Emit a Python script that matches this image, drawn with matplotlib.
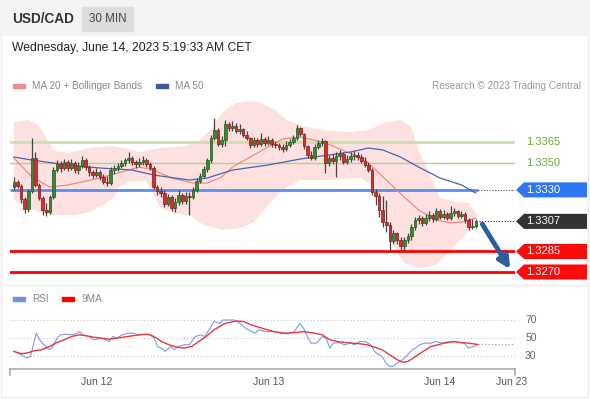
import numpy as np
import matplotlib.pyplot as plt
from matplotlib.patches import Rectangle, Polygon

plt.rcParams['font.family'] = ['Liberation Sans', 'DejaVu Sans']

# --- data (30 min candles, USD/CAD) ---
first_open = 1.33321
close = [1.33358, 1.33328, 1.33233, 1.33160, 1.33292, 1.33533, 1.33336, 1.33241, 1.33153, 1.33138,
         1.33248, 1.33445, 1.33489, 1.33460, 1.33504, 1.33460, 1.33496, 1.33445, 1.33475, 1.33518,
         1.33467, 1.33431, 1.33409, 1.33431, 1.33394, 1.33358, 1.33350, 1.33445, 1.33460, 1.33475,
         1.33496, 1.33518, 1.33533, 1.33504, 1.33489, 1.33504, 1.33518, 1.33489, 1.33460, 1.33321,
         1.33292, 1.33277, 1.33197, 1.33248, 1.33168, 1.33211, 1.33263, 1.33219, 1.33255, 1.33248,
         1.33299, 1.33365, 1.33401, 1.33453, 1.33518, 1.33679, 1.33738, 1.33635, 1.33665, 1.33782,
         1.33752, 1.33767, 1.33730, 1.33745, 1.33701, 1.33679, 1.33628, 1.33665, 1.33635, 1.33672,
         1.33643, 1.33665, 1.33635, 1.33628, 1.33613, 1.33599, 1.33628, 1.33650, 1.33679, 1.33752,
         1.33708, 1.33621, 1.33555, 1.33533, 1.33613, 1.33643, 1.33657, 1.33496, 1.33533, 1.33511,
         1.33548, 1.33562, 1.33504, 1.33526, 1.33548, 1.33555, 1.33540, 1.33511, 1.33482, 1.33445,
         1.33284, 1.33255, 1.33153, 1.33065, 1.33043, 1.32926, 1.32985, 1.32934, 1.32890, 1.32934,
         1.32963, 1.33029, 1.33080, 1.33094, 1.33058, 1.33094, 1.33116, 1.33087, 1.33146, 1.33102,
         1.33124, 1.33094, 1.33131, 1.33146, 1.33109, 1.33124, 1.33080, 1.33029, 1.33036, 1.33070]
high = [1.33394, 1.33372, 1.33343, 1.33248, 1.33306, 1.33679, 1.33577, 1.33350, 1.33255, 1.33204,
        1.33263, 1.33467, 1.33518, 1.33511, 1.33526, 1.33518, 1.33526, 1.33511, 1.33504, 1.33548,
        1.33533, 1.33482, 1.33445, 1.33460, 1.33445, 1.33416, 1.33401, 1.33467, 1.33482, 1.33496,
        1.33518, 1.33533, 1.33577, 1.33548, 1.33518, 1.33533, 1.33548, 1.33533, 1.33504, 1.33475,
        1.33336, 1.33321, 1.33299, 1.33270, 1.33263, 1.33241, 1.33299, 1.33277, 1.33284, 1.33284,
        1.33321, 1.33387, 1.33423, 1.33475, 1.33533, 1.33701, 1.33825, 1.33752, 1.33694, 1.33811,
        1.33796, 1.33804, 1.33789, 1.33782, 1.33752, 1.33730, 1.33687, 1.33687, 1.33679, 1.33716,
        1.33687, 1.33694, 1.33679, 1.33657, 1.33643, 1.33635, 1.33657, 1.33672, 1.33701, 1.33774,
        1.33760, 1.33716, 1.33628, 1.33584, 1.33635, 1.33665, 1.33679, 1.33665, 1.33555, 1.33562,
        1.33577, 1.33592, 1.33577, 1.33555, 1.33577, 1.33584, 1.33577, 1.33562, 1.33540, 1.33504,
        1.33460, 1.33306, 1.33277, 1.33255, 1.33226, 1.33065, 1.33007, 1.32992, 1.32956, 1.32956,
        1.32985, 1.33051, 1.33102, 1.33116, 1.33109, 1.33124, 1.33146, 1.33131, 1.33168, 1.33160,
        1.33153, 1.33138, 1.33182, 1.33168, 1.33153, 1.33146, 1.33138, 1.33094, 1.33087, 1.33087]
low = [1.33299, 1.33314, 1.33204, 1.33131, 1.33138, 1.33277, 1.33321, 1.33226, 1.33116, 1.33109,
       1.33124, 1.33233, 1.33431, 1.33431, 1.33445, 1.33438, 1.33445, 1.33423, 1.33416, 1.33460,
       1.33445, 1.33401, 1.33387, 1.33394, 1.33372, 1.33343, 1.33328, 1.33336, 1.33416, 1.33438,
       1.33460, 1.33475, 1.33496, 1.33482, 1.33460, 1.33467, 1.33482, 1.33467, 1.33445, 1.33306,
       1.33263, 1.33248, 1.33175, 1.33182, 1.33146, 1.33138, 1.33189, 1.33197, 1.33197, 1.33116,
       1.33233, 1.33284, 1.33350, 1.33387, 1.33431, 1.33496, 1.33665, 1.33621, 1.33613, 1.33621,
       1.33730, 1.33730, 1.33716, 1.33708, 1.33687, 1.33665, 1.33606, 1.33613, 1.33613, 1.33621,
       1.33621, 1.33628, 1.33613, 1.33606, 1.33592, 1.33577, 1.33584, 1.33613, 1.33635, 1.33665,
       1.33694, 1.33599, 1.33533, 1.33518, 1.33518, 1.33599, 1.33621, 1.33423, 1.33475, 1.33489,
       1.33394, 1.33518, 1.33489, 1.33489, 1.33504, 1.33518, 1.33518, 1.33496, 1.33467, 1.33431,
       1.33263, 1.33189, 1.33102, 1.33029, 1.32992, 1.32846, 1.32904, 1.32904, 1.32861, 1.32853,
       1.32912, 1.32934, 1.33007, 1.33051, 1.33036, 1.33043, 1.33073, 1.33065, 1.33073, 1.33087,
       1.33087, 1.33080, 1.33080, 1.33109, 1.33094, 1.33094, 1.33058, 1.33007, 1.33014, 1.33021]

# indicators, read at candle positions
ma20_idx = [0, 5, 10, 15, 19, 24, 30, 35, 39, 44, 50, 54, 58, 61, 66, 71, 75, 80, 87, 95, 99, 104,
            109, 113, 118, 122, 125, 129]
ma20 = [1.33533, 1.33394, 1.33321, 1.33336, 1.33358, 1.33387, 1.33431, 1.33467, 1.33445, 1.33387,
        1.33350, 1.33350, 1.33394, 1.33467, 1.33540, 1.33613, 1.33672, 1.33687, 1.33643, 1.33555,
        1.33496, 1.33372, 1.33248, 1.33153, 1.33080, 1.33058, 1.33065, 1.33094]
ma50_idx = [0, 5, 15, 24, 33, 39, 43, 49, 54, 61, 71, 80, 94, 99, 103, 108, 113, 119, 125, 129]
ma50 = [1.33540, 1.33518, 1.33482, 1.33460, 1.33445, 1.33409, 1.33394, 1.33372, 1.33387, 1.33445,
        1.33482, 1.33526, 1.33577, 1.33606, 1.33592, 1.33540, 1.33467, 1.33387, 1.33336, 1.33277]
bb_up_idx = [0, 4, 7, 9, 11, 15, 21, 27, 31, 35, 41, 48, 52, 55, 58, 62, 66, 69, 73, 76, 80, 85,
             94, 99, 104, 108, 111, 113, 116, 119, 124, 127, 129]
bb_up = [1.33796, 1.33811, 1.33767, 1.33679, 1.33592, 1.33570, 1.33606, 1.33621, 1.33606, 1.33577,
         1.33606, 1.33621, 1.33665, 1.33738, 1.33862, 1.33935, 1.33950, 1.33935, 1.33884, 1.33811,
         1.33774, 1.33738, 1.33723, 1.33738, 1.33796, 1.33811, 1.33760, 1.33592, 1.33423, 1.33241,
         1.33211, 1.33204, 1.33131]
bb_lo_idx = [0, 4, 10, 17, 21, 25, 28, 29, 32, 37, 39, 41, 45, 49, 53, 58, 63, 67, 71, 75, 80, 88,
             97, 100, 104, 106, 109, 113, 118, 122, 126, 129]
bb_lo = [1.33226, 1.33168, 1.33116, 1.33116, 1.33138, 1.33189, 1.33248, 1.33314, 1.33358, 1.33365,
         1.33263, 1.33168, 1.33131, 1.33116, 1.33043, 1.33007, 1.33021, 1.33065, 1.33189, 1.33299,
         1.33372, 1.33372, 1.33387, 1.33336, 1.33116, 1.32897, 1.32766, 1.32729, 1.32751, 1.32861,
         1.32970, 1.33058]

rsi_idx = [0, 2, 3.6, 4.6, 6.2, 7.2, 8.3, 9.9, 10.9, 12, 13, 14.6, 16.1, 17.7, 18.2, 19.3, 20.8,
           22.4, 24.5, 26.6, 27.6, 28.7, 30.2, 31.8, 33.4, 35, 36.5, 38.1, 39.1, 40.1, 41.2, 42.2,
           43.8, 44.8, 45.9, 47.5, 49, 50.6, 52.2, 53.2, 54.8, 55.8, 57.4, 58.4, 60, 61.6, 63.1,
           64.7, 66.3, 67.3, 68.3, 70.4, 72.5, 74.6, 76.7, 78.3, 79.8, 80.9, 81.9, 83, 84.5, 86.1,
           87.2, 88.2, 89.2, 90.8, 92.4, 94, 95, 96.6, 98.1, 99.7, 100.7, 101.8, 102.8, 103.9,
           104.9, 105.9, 107, 108, 109.6, 111.2, 112.2, 113.3, 114.8, 116.4, 117.9, 119.5, 121.1,
           122.7, 124.2, 125.8, 126.9, 128.4, 129.5]
rsi = [35.1, 31.5, 27.8, 29.6, 55.3, 48, 42.5, 37, 40.6, 49.8, 53.5, 54.2, 53.5, 55.3, 57.2, 53.5,
       51.7, 48, 49.8, 46.1, 51.7, 49.8, 53.5, 55.3, 55.3, 53.5, 54.2, 53.5, 49.8, 40.6, 38.8, 35.1,
       40.6, 37, 40.6, 42.5, 42.5, 51.7, 53.5, 51.7, 60.8, 68.2, 66.3, 70, 70, 70, 66.3, 60.8, 57.2,
       55.3, 59, 57.2, 57.2, 55.3, 54.6, 57.2, 66.3, 60.8, 51.7, 44.3, 44.3, 51.7, 49.8, 38.8, 44.3,
       45, 42.5, 44.3, 42.5, 46.1, 46.1, 42.5, 35.1, 31.5, 29.6, 22.3, 18.6, 18.6, 22.3, 24.1, 29.6,
       37, 38.8, 42.5, 44.3, 44.3, 46.1, 44.3, 44.3, 46.1, 45, 44.3, 38.8, 40.6, 43.2]
ma9_idx = [0, 2, 3.6, 5.7, 7.8, 9.9, 12, 14, 16.1, 18.2, 20.3, 22.4, 24.5, 26.6, 28.7, 31.8, 35,
           37.5, 39.1, 41.2, 43.3, 45.4, 47.5, 49.6, 51.6, 53.7, 55.8, 59, 62.1, 64.2, 66.3, 69.4,
           72.5, 75.7, 78.8, 80.9, 84, 86.1, 88.2, 90.3, 92.4, 94.5, 96.6, 98.6, 100.7, 102.8,
           104.9, 107, 108.6, 110.1, 112.2, 114.3, 116.4, 118.5, 120.6, 122.7, 124.8, 126.9, 129,
           129.5]
ma9 = [35.1, 32.6, 33.3, 35.9, 37, 40.6, 45, 48, 51.7, 53.5, 52.4, 50.9, 49.8, 48.7, 49.8, 51.7,
       53.5, 54.2, 51.7, 46.1, 42.5, 39.9, 38.8, 40.6, 46.1, 51.7, 59, 66.3, 68.9, 68.2, 64.5, 60.8,
       57.2, 55.3, 56.1, 57.2, 55.3, 53.5, 48, 46.1, 45, 44.3, 43.6, 42.5, 39.9, 37, 31.5, 26, 23,
       24.1, 29.6, 35.1, 40.6, 42.5, 45, 46.1, 45, 44.3, 43.2, 42.5]

resistances = [1.3365, 1.3350]
pivot = 1.3330
supports = [1.3285, 1.3270]
rsi_levels = [70, 50, 30]
tick_pos = [23, 71, 119, 139]
tick_labels = ["Jun 12", "Jun 13", "Jun 14", "Jun 23"]

# --- layout (pixel based, 590x400) ---
W, H = 590, 400


def fx(x):
    return x / W


def fy(y):
    return 1 - y / H


fig = plt.figure(figsize=(5.9, 4), dpi=100)
fig.patches.append(Rectangle((0, fy(35)), 1, 35 / H, transform=fig.transFigure,
                             color='#f4f4f4', zorder=0))
fig.patches.append(Rectangle((fx(82), fy(31)), 51 / W, 24 / H, transform=fig.transFigure,
                             color='#dcdcdc', zorder=1))
fig.lines.append(plt.Line2D([fx(1), fx(1), fx(588), fx(588)], [fy(35), fy(397), fy(397), fy(35)],
                            transform=fig.transFigure, color='#ececec', lw=1))
fig.lines.append(plt.Line2D([fx(1), fx(588)], [fy(285), fy(285)], transform=fig.transFigure,
                            color='#efefef', lw=1))
fig.text(fx(12), fy(19), "USD/CAD", fontsize=9.8, fontweight='bold', color='#333333', va='center')
fig.text(fx(107.5), fy(19), "30 MIN", fontsize=8.4, color='#444444', va='center', ha='center')
fig.text(fx(12), fy(48), "Wednesday, June 14, 2023 5:19:33 AM CET", fontsize=8.7,
         color='#222222', va='center')

# legends
for x0, col, lab, yy in [(13, '#f28b8b', "MA 20 + Bollinger Bands", 86), (156, '#3c5a9a', "MA 50", 86),
                         (13, '#6f8fe0', "RSI", 299), (62, '#ff0000', "9MA", 299)]:
    fig.patches.append(Rectangle((fx(x0), fy(yy + 2)), 12 / W, 4 / H, transform=fig.transFigure,
                                 color=col))
    fig.text(fx(x0 + 19), fy(yy), lab, fontsize=7.2, color='#888888', va='center')
fig.text(fx(581), fy(86), "Research \u00a9 2023 Trading Central", fontsize=7.2, color='#9a9a9a',
         va='center', ha='right')

n = len(close)
x_lo, x_hi = (10 - 14) / 3.58, (515 - 14) / 3.58

# --- main price panel ---
ax = fig.add_axes([fx(10), fy(285), 505 / W, 190 / H])
ax.set_xlim(x_lo, x_hi)
ax.set_ylim(1.32605, 1.339935)
ax.axis('off')

ax.fill(np.r_[bb_up_idx, bb_lo_idx[::-1]], np.r_[bb_up, bb_lo[::-1]], color='#fde1e1', lw=0, zorder=1)

ax.axhline(resistances[0], color='#c9dfae', lw=2, zorder=1.5)
ax.axhline(resistances[1], color='#b5cd98', lw=1, zorder=1.5)
ax.hlines(pivot, x_lo, n - 0.4, color='#5b8def', lw=2, zorder=1.5)
ax.hlines(pivot, n - 0.4, x_hi, color='#555555', lw=0.8, ls=(0, (1, 1.5)), zorder=1.5)
ax.hlines(close[-1], n - 0.2, x_hi, color='#333333', lw=0.8, ls=(0, (1, 1.5)), zorder=1.5)
for s in supports:
    ax.axhline(s, color='#ff0000', lw=2, zorder=1.5)

ax.plot(ma20_idx, ma20, color='#f08080', lw=0.8, zorder=2)
ax.plot(ma50_idx, ma50, color='#4a64a8', lw=0.9, zorder=2)

idx = np.arange(n)
c = np.array(close)
o = np.r_[first_open, c[:-1]]
rising = c >= o
ax.vlines(idx, low, high, color='#444444', lw=0.9, zorder=3)
ax.bar(idx, np.maximum(np.abs(c - o), 0.00003), bottom=np.minimum(c, o), width=0.72,
       color=np.where(rising, '#3a8a35', '#d32f2f'),
       edgecolor=np.where(rising, '#24561f', '#851818'), lw=0.5, zorder=4)

ax.annotate('', xy=(n + 9, supports[1] + 0.00003), xytext=(n + 0.4, close[-1] - 0.00003),
            arrowprops=dict(arrowstyle='-|>', color='#2f5d9e', lw=3.5, mutation_scale=17),
            annotation_clip=False, zorder=6)

tr = ax.get_yaxis_transform()


def price_tag(y, text, color):
    h = 0.00055
    pts = [(1.002, y), (1.0178, y + h), (1.1426, y + h), (1.1426, y - h), (1.0178, y - h)]
    ax.add_patch(Polygon(pts, closed=True, transform=tr, clip_on=False, color=color, lw=0))
    ax.text(1.0218, y, text, transform=tr, color='white', ha='left', va='center', fontsize=8)


for r in resistances:
    ax.text(1.0218, r, f"{r:.4f}", transform=tr, color='#6fa83a', ha='left', va='center',
            fontsize=8)
price_tag(pivot, f"{pivot:.4f}", '#2f76f5')
price_tag(close[-1], f"{close[-1]:.4f}", '#333333')
for s in supports:
    price_tag(s, f"{s:.4f}", '#ff0a0a')

# --- RSI panel ---
rax = fig.add_axes([fx(10), fy(369), 505 / W, 69 / H])
rax.set_xlim(x_lo, x_hi)
rax.set_ylim(15.6, 92.2)
for lv in rsi_levels:
    rax.hlines(lv, x_lo, x_hi, color='#c4c4c4', lw=0.8, ls=(0, (1, 2)))
    rax.text(1.02, lv, str(lv), transform=rax.get_yaxis_transform(), fontsize=7.5, color='#666666',
             va='center')
rax.plot(rsi_idx, rsi, color='#7e9ae6', lw=0.8)
rax.plot(ma9_idx, ma9, color='#e8393a', lw=1)
rax.hlines(rsi[-1], rsi_idx[-1], x_hi, color='#999999', lw=0.8, ls=(0, (1, 2)))

for sp in ['top', 'left', 'right']:
    rax.spines[sp].set_visible(False)
rax.spines['bottom'].set_color('#aaaaaa')
rax.spines['bottom'].set_linewidth(1.2)
rax.set_yticks([])
rax.set_xticks(tick_pos)
rax.set_xticklabels(tick_labels)
rax.tick_params(axis='x', length=0, pad=6, labelsize=7.5, labelcolor='#555555')
for xe in (0, 1):
    rax.plot([xe, xe], [0, -0.09], transform=rax.transAxes, color='#aaaaaa', lw=1.2, clip_on=False)

fig.savefig('out.png', dpi=100)
